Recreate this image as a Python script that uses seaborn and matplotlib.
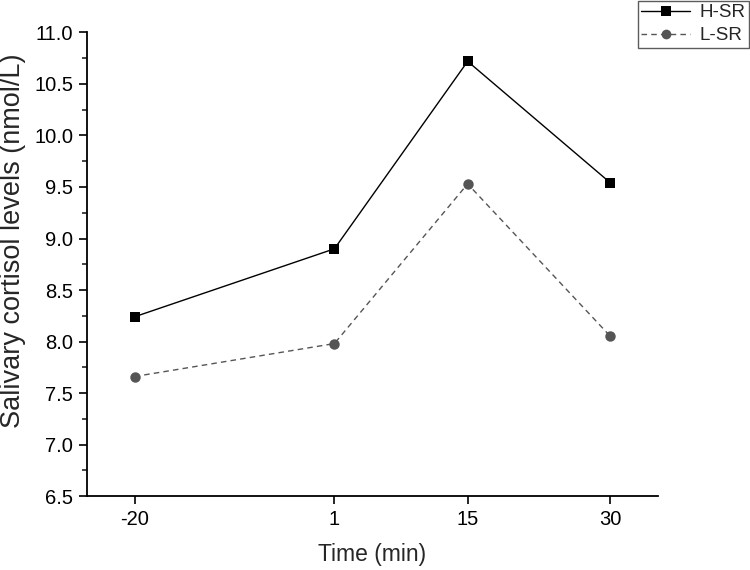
import matplotlib
matplotlib.use("Agg")
import matplotlib.pyplot as plt
from matplotlib.ticker import MultipleLocator, FormatStrFormatter
from matplotlib.lines import Line2D
import seaborn as sns
import pandas as pd

# values
times = [-20, 1, 15, 30]
h_sr = [8.24, 8.90, 10.72, 9.54]
l_sr = [7.66, 7.98, 9.53, 8.05]
groups = ["H-SR", "L-SR"]

df = pd.DataFrame({
    "time": times * 2,
    "cortisol": h_sr + l_sr,
    "group": [groups[0]] * len(times) + [groups[1]] * len(times),
})

sns.set_style("ticks")
plt.rcParams["font.family"] = ["Liberation Sans", "DejaVu Sans"]

fig = plt.figure(figsize=(7.5, 5.7), dpi=100)
ax = fig.add_axes([0.116, 0.1298, 0.7613, 0.8132])

sns.lineplot(
    data=df, x="time", y="cortisol", hue="group", style="group",
    palette={"H-SR": "black", "L-SR": "#555555"},
    markers={"H-SR": "s", "L-SR": "o"},
    dashes={"H-SR": "", "L-SR": (4, 3)},
    markersize=7.5, linewidth=1, markeredgewidth=0,
    ax=ax, legend=False,
)

ax.set_xlim(-25, 35)
ax.set_ylim(6.5, 11.0)
ax.set_xticks(times)
ax.set_xticklabels([str(t) for t in times])
ax.yaxis.set_major_locator(MultipleLocator(0.5))
ax.yaxis.set_minor_locator(MultipleLocator(0.25))
ax.yaxis.set_major_formatter(FormatStrFormatter("%.1f"))
ax.tick_params(axis="both", which="major", direction="out", length=6, width=1.2,
               labelsize=14.5, colors="black", pad=4)
ax.tick_params(axis="y", which="minor", direction="out", length=3.5, width=1.2)
for side in ["left", "bottom"]:
    ax.spines[side].set_linewidth(1.3)
    ax.spines[side].set_color("black")
sns.despine(ax=ax)

ax.set_xlabel("Time (min)", fontsize=16.5, labelpad=10)
ax.set_ylabel("Salivary cortisol levels (nmol/L)", fontsize=19.5)
ax.yaxis.set_label_coords(-0.107, 0.55)

# legend in the top-right corner outside the axes
handles = [
    Line2D([], [], color="black", lw=1, marker="s", markersize=7, markeredgewidth=0),
    Line2D([], [], color="#555555", lw=1, ls=(0, (4, 3)), marker="o", markersize=7, markeredgewidth=0),
]
leg = fig.legend(handles, groups, loc="upper right", bbox_to_anchor=(0.999, 0.999),
                 fontsize=13.5, frameon=True, fancybox=False, handlelength=2.6,
                 borderpad=0.2, labelspacing=0.3, handletextpad=0.5, borderaxespad=0)
leg.get_frame().set_edgecolor("#333333")
leg.get_frame().set_linewidth(1)

fig.savefig("out.png", dpi=100)
